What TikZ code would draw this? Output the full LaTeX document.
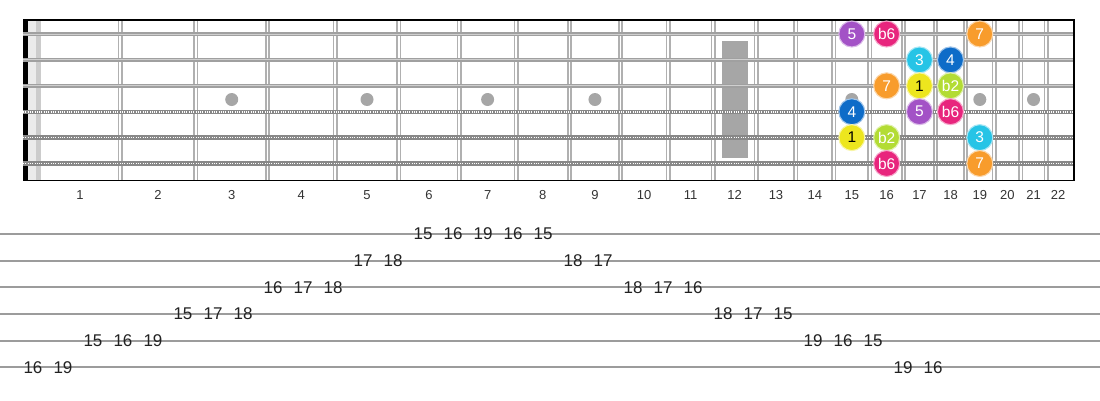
\documentclass[tikz,border=0pt]{standalone}
\usepackage{fontspec}
\setmainfont{Liberation Sans}
\usepackage{tikz}
\usetikzlibrary{calc}
\definecolor{fretgray}{HTML}{B0B0B0}
\definecolor{strgray}{HTML}{A0A0A0}
\definecolor{inlay}{HTML}{A6A6A6}
\definecolor{tabline}{HTML}{9C9C9C}
\definecolor{numtext}{HTML}{333333}
\definecolor{tabtext}{HTML}{222222}
\definecolor{cRoot}{HTML}{EDE61E}
\definecolor{cFlatTwo}{HTML}{B3DC34}
\definecolor{cThird}{HTML}{26C4E6}
\definecolor{cFourth}{HTML}{0E6CC8}
\definecolor{cFifth}{HTML}{A352C6}
\definecolor{cFlatSix}{HTML}{E8257D}
\definecolor{cSeventh}{HTML}{F89C2C}
\tikzset{
  fretwire/.style={draw=fretgray, line width=5pt},
  fretgap/.style={draw=white, line width=1.6pt},
  plainstr/.style={draw=strgray, line width=3.4pt},
  plaincore/.style={draw=white!50!strgray, line width=1pt},
  woundstr/.style={draw=strgray!85!black, line width=4.4pt},
  woundcore/.style={draw=white, line width=1.6pt, dash pattern=on 1pt off 1.3pt},
  frame/.style={draw=black, line width=1.6pt},
  dotmark/.style={circle, fill=inlay, inner sep=0pt, minimum size=13pt},
  fretnum/.style={text=numtext, anchor=base, font=\fontsize{13}{15}\selectfont},
  tabstaff/.style={draw=tabline, line width=1.8pt},
  tabnum/.style={text=tabtext, font=\fontsize{17}{19}\selectfont},
  note/.style={circle, fill=#1, draw=#1!40!white, line width=1.1pt,
    minimum size=26pt, inner sep=0pt, font=\fontsize{15.5}{17}\selectfont},
}

\begin{document}
\begin{tikzpicture}[x=1pt,y=-1pt]
  \useasboundingbox (0,0) rectangle (1100,400);
  % nut
  \fill[black!8] (27.7,20) rectangle (36,180.5);
  \fill[black!20] (36,20) rectangle (41,180.5);
  \fill[black] (23,20) rectangle (27.7,180.5);
  % position marks
  \fill[inlay] (722,41) rectangle (748,158);
  \foreach \f in {3,5,7,9,15,19,21}{
    \pgfmathsetmacro{\mx}{40+1432*(1-(pow(2,-\f/12)+pow(2,-(\f-1)/12))/2)}
    \node[dotmark] (dot\f) at (\mx,99.5) {};
  }
  % frets
  \foreach \f in {1,...,21}{
    \pgfmathsetmacro{\wx}{40+1432*(1-pow(2,-\f/12))}
    \draw[fretwire] (\wx,20) -- (\wx,180.5);
    \draw[fretgap] (\wx,20) -- (\wx,180.5);
  }
  % strings
  \foreach \s in {1,2,3}{
    \pgfmathsetmacro{\sy}{34+25.9*(\s-1)}
    \draw[plainstr] (23,\sy) -- (1074,\sy);
    \draw[plaincore] (23,\sy) -- (1074,\sy);
  }
  \foreach \s in {4,5,6}{
    \pgfmathsetmacro{\sy}{34+25.9*(\s-1)}
    \draw[woundstr] (23,\sy) -- (1074,\sy);
    \draw[woundcore] (23,\sy) -- (1074,\sy);
  }
  \draw[frame] (23,20) -- (1074,20) -- (1074,180.5) -- (23,180.5);
  % fret numbers
  \foreach \f in {1,...,22}{
    \pgfmathsetmacro{\mx}{40+1432*(1-(pow(2,-\f/12)+pow(2,-(\f-1)/12))/2)}
    \node[fretnum] (fn\f) at (\mx,199) {\f};
  }
  % scale notes
  \foreach \s/\f/\d/\c/\t in {
      1/15/5/cFifth/white, 1/16/b6/cFlatSix/white, 1/19/7/cSeventh/white,
      2/17/3/cThird/white, 2/18/4/cFourth/white,
      3/16/7/cSeventh/white, 3/17/1/cRoot/black, 3/18/b2/cFlatTwo/white,
      4/15/4/cFourth/white, 4/17/5/cFifth/white, 4/18/b6/cFlatSix/white,
      5/15/1/cRoot/black, 5/16/b2/cFlatTwo/white, 5/19/3/cThird/white,
      6/16/b6/cFlatSix/white, 6/19/7/cSeventh/white}{
    \pgfmathsetmacro{\mx}{40+1432*(1-(pow(2,-\f/12)+pow(2,-(\f-1)/12))/2)}
    \pgfmathsetmacro{\sy}{34+25.9*(\s-1)}
    \node[note=\c, text=\t] (n\s-\f) at (\mx,\sy) {\d};
  }
  % tab staff
  \foreach \s in {1,...,6}{
    \pgfmathsetmacro{\ty}{234+26.65*(\s-1)}
    \draw[tabstaff] (0,\ty) -- (1100,\ty);
  }
  \foreach \k/\s/\v in {0/6/16, 1/6/19, 2/5/15, 3/5/16, 4/5/19, 5/4/15, 6/4/17,
      7/4/18, 8/3/16, 9/3/17, 10/3/18, 11/2/17, 12/2/18, 13/1/15, 14/1/16,
      15/1/19, 16/1/16, 17/1/15, 18/2/18, 19/2/17, 20/3/18, 21/3/17, 22/3/16,
      23/4/18, 24/4/17, 25/4/15, 26/5/19, 27/5/16, 28/5/15, 29/6/19, 30/6/16}{
    \pgfmathsetmacro{\ty}{234+26.65*(\s-1)}
    \node[tabnum] (tab\k) at (33+30*\k,\ty) {\v};
  }
\end{tikzpicture}
\end{document}
